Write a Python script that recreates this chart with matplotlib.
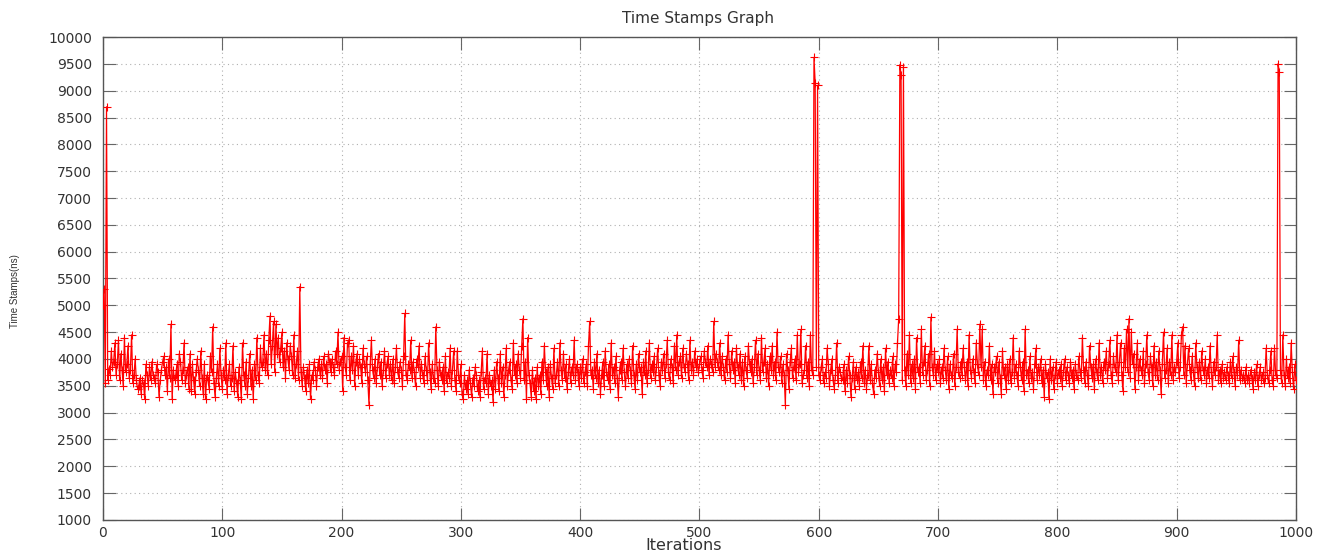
import numpy as np
import matplotlib
matplotlib.use("Agg")
import matplotlib.pyplot as plt

plt.rcParams['font.family'] = ['DejaVu Sans']

# time stamps (ns) per iteration
ts = [
    5000, 5300, 3550, 8700, 3600, 3820, 3700, 4150, 3850, 3950, 4300, 3700, 3900, 4350, 3600, 4100, 3800, 3500, 4400, 3750,
    3900, 4250, 3650, 3800, 4450, 3550, 3700, 4000, 3600, 3450, 3500, 3650, 3350, 3600, 3550, 3250, 3900, 3700, 3500, 3850,
    3600, 3950, 3700, 3650, 3550, 3900, 3750, 3300, 3600, 3800, 3950, 4050, 3700, 3850, 3400, 4000, 3650, 4650, 3250, 3800,
    3600, 3700, 3900, 3500, 4100, 3950, 3600, 3800, 4300, 3550, 3700, 3850, 3450, 4100, 3400, 3900, 3600, 3350, 3750, 4000,
    3800, 3500, 4150, 3650, 3350, 3900, 3250, 3700, 3600, 3450, 4050, 3750, 4600, 3550, 3300, 3650, 3900, 3500, 4200, 3700,
    3450, 3800, 3600, 4300, 3350, 3700, 3900, 3500, 3650, 4250, 3400, 3750, 3550, 3300, 3850, 3600, 3250, 4300, 3700, 3500,
    3950, 3350, 3650, 4100, 3500, 3800, 3250, 3900, 3600, 4400, 3700, 3550, 4200, 3850, 3950, 4450, 3800, 4100, 3700, 4350,
    4800, 3900, 4250, 4700, 3750, 4650, 4100, 4400, 3950, 4200, 4500, 3850, 4150, 3650, 4300, 4000, 3800, 4250, 4050, 3700,
    4450, 3650, 3900, 4150, 3600, 5350, 3750, 3500, 3850, 3650, 3400, 3800, 3550, 3900, 3250, 3700, 3600, 3950, 3800, 3500,
    3850, 4000, 3700, 3900, 3650, 4050, 3800, 3900, 3550, 4100, 3950, 3750, 4000, 3850, 3700, 4150, 3900, 4500, 3800, 3950,
    4050, 3400, 4400, 3850, 3700, 4300, 4350, 3600, 4050, 3800, 4250, 3500, 3950, 4100, 3700, 4000, 3850, 3550, 4200, 3900,
    3750, 4050, 3600, 3150, 3900, 4350, 3800, 3650, 4000, 3550, 3850, 4100, 3700, 3950, 3500, 3800, 4150, 3650, 3900, 4050,
    3700, 3900, 3600, 4000, 3550, 3850, 4200, 3750, 3650, 3950, 3800, 3500, 4050, 4850, 3700, 3600, 3900, 3800, 4350, 3650,
    3950, 3750, 3500, 4000, 3850, 4250, 3650, 3900, 3700, 3550, 4050, 3800, 3600, 4300, 3750, 3450, 3900, 3650, 3550, 4600,
    3800, 3500, 3950, 3700, 3600, 3850, 3400, 4050, 3550, 3750, 3650, 4200, 3500, 3800, 4150, 3600, 3400, 4150, 3700, 3550,
    3900, 3350, 3250, 3700, 3450, 3600, 3350, 3800, 3550, 3300, 3650, 3500, 3850, 3700, 3400, 3600, 3300, 3750, 4150, 3450,
    3650, 3550, 4100, 3350, 3700, 3500, 3600, 3200, 3800, 3450, 3950, 3650, 3400, 4100, 3550, 3850, 3300, 3700, 4200, 3500,
    3800, 3950, 3600, 3450, 4300, 3700, 3900, 3550, 4100, 3800, 3650, 4250, 4750, 3600, 3950, 3250, 4400, 3700, 3550, 3300,
    3800, 3400, 3650, 3250, 3850, 3500, 3700, 3350, 3950, 3600, 4250, 3750, 3500, 3850, 3300, 3900, 3650, 3450, 4200, 3550,
    3700, 3950, 3500, 4300, 3800, 3600, 4100, 3650, 3900, 3450, 3750, 4000, 3550, 3850, 3700, 4350, 3600, 3900, 3750, 3500,
    3850, 3650, 4000, 3550, 3750, 3900, 3500, 4250, 4700, 3700, 3800, 3450, 3950, 3650, 4100, 3550, 3800, 3350, 3700, 3950,
    3500, 4150, 3750, 3600, 3900, 3450, 4300, 3700, 3850, 3550, 4050, 3650, 3300, 3800, 3950, 3600, 4200, 3750, 3500, 3900,
    3650, 4000, 3800, 3550, 4250, 3700, 3450, 3900, 3600, 4100, 3750, 3850, 3350, 3950, 3700, 4150, 3550, 3800, 4300, 3650,
    3900, 3750, 4050, 3600, 3850, 4200, 3700, 3500, 3950, 3800, 4100, 3650, 3900, 4350, 3750, 3600, 4000, 3850, 3550, 4250,
    3800, 4450, 3700, 3950, 4050, 3650, 4200, 3850, 3750, 4100, 3900, 3600, 4350, 3800, 3950, 3700, 4150, 3850, 4000, 3750,
    3900, 4050, 3800, 3650, 4150, 3950, 3850, 4250, 3700, 4000, 3900, 3750, 4700, 3850, 4100, 3950, 3800, 4300, 3700, 4050,
    3850, 3600, 4000, 3750, 4450, 3900, 3650, 4150, 3800, 3950, 3550, 4200, 3850, 3700, 4100, 3600, 3950, 3500, 4050, 3800,
    3650, 4250, 3900, 3750, 4000, 3550, 3850, 4350, 3700, 4100, 3800, 3600, 4400, 3750, 3950, 4200, 3650, 3900, 3500, 4050,
    3800, 4250, 3700, 3950, 3600, 4500, 3850, 3750, 4050, 3550, 3900, 3700, 3150, 4100, 3800, 3450, 3950, 4200, 3650, 3850,
    4000, 3600, 4450, 3750, 3900, 4550, 3550, 3700, 3800, 4250, 3650, 3950, 3500, 4450, 3800, 3700, 9620, 9150, 3850, 9100,
    3700, 3600, 3850, 4000, 3550, 3750, 3650, 4200, 3900, 3500, 3800, 4000, 3600, 3450, 3700, 4300, 3550, 3850, 3750, 3650,
    3600, 3900, 3400, 3800, 3550, 4050, 3700, 3300, 3650, 3950, 3450, 3850, 3600, 3750, 3500, 3950, 3650, 4250, 3550, 3800,
    3450, 3700, 4250, 3600, 3900, 3550, 3350, 3800, 3650, 4100, 3750, 3500, 4000, 3600, 3850, 3400, 4200, 3700, 3950, 3550,
    3800, 3650, 4050, 3500, 3900, 3750, 4300, 4750, 9480, 9300, 3600, 9450, 3800, 3500, 4100, 3700, 4450, 3550, 3900, 3650,
    4000, 3450, 4400, 3750, 3850, 3550, 4550, 3700, 3950, 4250, 3600, 3800, 4100, 3500, 4780, 3850, 3700, 4150, 3600, 3900,
    3750, 4000, 3550, 3850, 3650, 4200, 3800, 3600, 4050, 3450, 3900, 3700, 3650, 4100, 3500, 3850, 4550, 3750, 3650, 3950,
    3700, 4200, 3850, 3600, 3950, 3500, 4450, 3800, 3650, 4000, 3750, 3550, 4300, 3900, 3700, 4650, 3850, 4550, 3600, 3950,
    3500, 3800, 3700, 4250, 3600, 3900, 3350, 3850, 3750, 4050, 3550, 3950, 3650, 3350, 4150, 3700, 3850, 3450, 3900, 3600,
    4000, 3550, 3750, 4400, 3650, 3900, 3700, 3500, 4150, 3850, 3600, 3950, 3400, 4550, 3700, 3800, 3550, 4050, 3650, 3750,
    3450, 3900, 4200, 3600, 3850, 3700, 4000, 3550, 3800, 3300, 3900, 3650, 3750, 3250, 4000, 3600, 3850, 3450, 3700, 3950,
    3550, 3800, 3650, 3900, 3500, 3750, 4000, 3600, 3850, 3700, 3550, 3950, 3650, 3800, 3450, 3900, 3700, 3600, 4050, 3750,
    3650, 4400, 3800, 3550, 3950, 3700, 3500, 4250, 3850, 3650, 3900, 3450, 4000, 3750, 3600, 4300, 3700, 3850, 3550, 3950,
    3800, 4150, 3650, 3900, 4350, 3700, 3550, 4050, 3850, 3750, 4450, 3600, 3950, 4300, 3700, 3400, 4200, 3850, 4550, 3750,
    4750, 3650, 4500, 3900, 4100, 3450, 3850, 4300, 3600, 4000, 3800, 3700, 4150, 3550, 3900, 4450, 3750, 3600, 4050, 3850,
    3500, 4250, 3700, 3950, 3600, 4150, 3800, 3350, 3900, 4500, 3650, 3800, 4200, 3550, 3950, 3700, 4450, 3600, 3850, 3750,
    3950, 4300, 3650, 3850, 4450, 4600, 3700, 4250, 3550, 3900, 4200, 3800, 3600, 4050, 3750, 3500, 4300, 3850, 3650, 3950,
    3600, 4150, 3800, 3700, 4000, 3550, 3850, 3650, 4250, 3750, 3500, 3950, 3700, 3850, 4450, 3600, 3800, 3550, 3900, 3650,
    3750, 3600, 3850, 3700, 3550, 3950, 3650, 4050, 3750, 3500, 3850, 3700, 4350, 3600, 3800, 3650, 3700, 3550, 3850, 3600,
    3700, 3550, 3800, 3650, 3450, 3750, 3600, 3900, 3500, 3700, 3850, 3600, 3750, 3550, 3650, 4200, 3700, 3550, 3800, 4150,
    3600, 3500, 4200, 3700, 3650, 9500, 9350, 3800, 3550, 4450, 3700, 3500, 4000, 3650, 3850, 3550, 4300, 3750, 3450, 3900,
    3600,
]
iters = np.arange(len(ts))

xticks = np.arange(0, 1001, 100)
yticks = np.arange(1000, 10001, 500)

fig = plt.figure(figsize=(13.3, 5.55), dpi=100)
ax = fig.add_axes([0.0774, 0.0631, 0.8970, 0.8702])

ax.plot(iters, ts, color='#ff0000', lw=0.9, marker='+', markersize=6,
        markeredgewidth=0.8, zorder=3)

ax.set_xlim(0, 1000)
ax.set_ylim(1000, 10000)
ax.set_xticks(xticks)
ax.set_yticks(yticks)

# gnuplot look: dotted grid, mirrored inward ticks
ax.grid(True, color='#b0b0b0', lw=0.8, linestyle=(0, (1, 3)))
ax.tick_params(direction='in', length=9, width=0.8, color='#666666',
               top=True, right=True, labelsize=10, labelcolor='#333333')
ax.tick_params(axis='y', pad=8)
ax.tick_params(axis='x', pad=4)
for s in ax.spines.values():
    s.set_color('#555555')
    s.set_linewidth(1.0)

fig.text(0.5245, 0.967, "Time Stamps Graph", fontsize=11, color='#333333',
         ha='center', va='center')
fig.text(684 / 1330, 0.017, "Iterations", fontsize=11.5, color='#333333',
         ha='center', va='center')
fig.text(15 / 1330, 0.476, "Time Stamps(ns)", fontsize=7, color='#333333',
         family=['Liberation Sans', 'DejaVu Sans'],
         rotation=90, ha='center', va='center')

fig.savefig("out.png", dpi=100)
